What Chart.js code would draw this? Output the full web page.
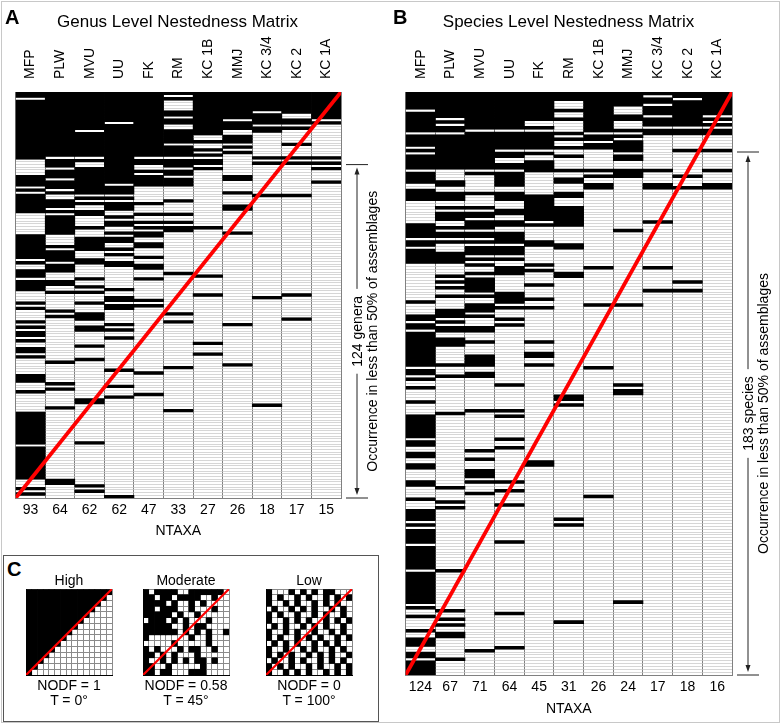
<!DOCTYPE html>
<html>
<head>
<meta charset="utf-8">
<script src="https://cdn.jsdelivr.net/npm/chart.js@4.4.1/dist/chart.umd.min.js"></script>
<style>
  body { margin: 0; background: #fff; font-family: 'Liberation Sans', Arial, sans-serif; }
  #page { position: relative; width: 782px; height: 726px; overflow: hidden; }
  canvas { position: absolute; }
  .txt { position: absolute; white-space: nowrap; line-height: 1; color: #000; z-index: 2; }
  .letter { font-size: 20px; font-weight: bold; }
  .title { font-size: 17px; text-align: center; width: 327px; top: 13px; }
  .small { font-size: 14px; text-align: center; width: 110px; }
  #frame { position: absolute; left: 1px; top: 1px; width: 777px; height: 720px; border: 1px solid #c8c8c8; }
  #boxC { position: absolute; left: 3px; top: 555px; width: 374px; height: 165px; border: 1px solid #555; }
</style>
</head>
<body>
<div id="page">
  <div id="frame"></div>
  <div id="boxC"></div>
  <canvas id="chartA" width="390" height="550" style="left:0;top:0"></canvas>
  <canvas id="chartB" width="392" height="726" style="left:390px;top:0"></canvas>
  <canvas id="cHigh" width="94" height="94" style="left:22px;top:585px"></canvas>
  <canvas id="cModerate" width="94" height="94" style="left:139px;top:585px"></canvas>
  <canvas id="cLow" width="94" height="94" style="left:262px;top:585px"></canvas>

  <div class="txt letter" style="left:5px;top:7px">A</div>
  <div class="txt letter" style="left:393px;top:7px">B</div>
  <div class="txt letter" style="left:7px;top:559px">C</div>
  <div class="txt title" style="left:14px">Genus Level Nestedness Matrix</div>
  <div class="txt title" style="left:405px">Species Level Nestedness Matrix</div>
  <div id="labelsC"></div>
</div>
<script>
Chart.defaults.font.family = "'Liberation Sans', Arial, sans-serif";
Chart.defaults.color = '#000';

// assemblages (columns), same order in both matrices
const columns = ['MFP', 'PLW', 'MVU', 'UU', 'FK', 'RM', 'KC 1B', 'MMJ', 'KC 3/4', 'KC 2', 'KC 1A'];

// genus matrix: presence runs [firstRow, endRow) per column
const genusRows = 151;
const genusCommon = 27;
const genusNtaxa = [93, 64, 62, 62, 47, 33, 27, 26, 18, 17, 15];
const genusRuns = [
  [[0,2],[3,25],[31,35],[36,37],[38,45],[53,62],[63,64],[66,69],[70,74],[78,79],[80,81],[85,86],[87,88],[89,91],[92,93],[95,97],[98,99],[105,108],[111,112],[119,131],[132,144],[147,148],[149,150]],
  [[0,24],[25,28],[29,32],[33,36],[37,38],[40,43],[44,45],[46,53],[57,58],[59,63],[64,67],[70,72],[74,75],[81,82],[83,84],[100,101],[108,109],[110,111],[117,118],[144,146]],
  [[0,14],[15,24],[25,26],[28,38],[39,40],[41,42],[44,46],[50,51],[54,59],[62,64],[69,70],[72,73],[74,75],[78,79],[82,85],[87,89],[94,95],[99,100],[114,116],[130,131],[146,147],[148,149]],
  [[0,11],[12,34],[35,38],[39,40],[41,44],[46,47],[48,50],[52,53],[54,56],[58,59],[60,61],[63,65],[73,74],[76,78],[79,81],[86,87],[88,89],[91,92],[103,104],[109,110],[113,114],[150,151]],
  [[0,24],[25,27],[29,30],[31,35],[41,42],[45,46],[48,49],[50,51],[52,54],[56,58],[61,62],[64,66],[69,70],[77,78],[79,80],[104,105],[112,113]],
  [[0,1],[2,3],[7,9],[10,12],[14,19],[20,24],[25,28],[29,31],[32,35],[40,41],[45,46],[48,49],[50,52],[67,68],[82,83],[85,86],[102,103],[118,119]],
  [[0,16],[18,19],[21,22],[23,24],[25,27],[28,29],[50,51],[68,69],[75,76],[93,94],[97,98]],
  [[0,10],[11,14],[16,19],[20,21],[22,23],[31,33],[37,38],[42,44],[52,53],[86,87],[101,102]],
  [[0,7],[8,12],[13,15],[24,25],[26,27],[38,39],[76,77],[116,117]],
  [[0,8],[10,12],[13,14],[19,20],[24,25],[26,27],[38,39],[75,76],[84,85]],
  [[0,10],[11,12],[24,25],[26,27],[28,29],[33,34]]
];

// species matrix
const speciesRows = 204;
const speciesCommon = 21;
const speciesNtaxa = [124, 67, 71, 64, 45, 31, 26, 24, 17, 18, 16];
const speciesRuns = [
  [[0,6],[7,14],[15,19],[20,21],[22,27],[28,32],[34,38],[46,51],[52,54],[55,60],[73,74],[78,80],[81,83],[84,96],[97,99],[100,101],[103,104],[108,109],[113,121],[122,124],[126,128],[130,132],[136,138],[142,143],[146,150],[151,152],[153,158],[159,167],[168,179],[180,181],[183,184],[188,189],[191,194],[196,198],[199,204]],
  [[0,9],[10,11],[12,14],[15,27],[31,33],[35,38],[40,41],[42,45],[47,48],[49,51],[52,53],[56,60],[64,65],[66,67],[68,69],[71,72],[76,79],[80,81],[82,84],[86,89],[95,96],[99,100],[112,113],[138,139],[143,144],[145,146],[167,168],[181,182],[184,185],[186,187],[189,191],[198,199]],
  [[0,13],[14,27],[28,29],[35,36],[40,41],[42,44],[45,48],[49,51],[52,53],[54,57],[58,59],[60,61],[63,64],[65,70],[71,72],[74,77],[78,79],[82,84],[87,88],[92,96],[98,100],[111,112],[125,126],[128,129],[132,135],[136,137],[140,141],[195,196]],
  [[0,13],[14,20],[21,23],[25,27],[28,33],[35,38],[41,43],[45,47],[49,53],[54,57],[58,59],[61,64],[70,74],[75,76],[79,80],[81,82],[102,103],[111,112],[113,114],[121,122],[124,125],[136,137],[139,140],[144,145],[157,158],[182,183],[194,195]],
  [[0,10],[12,13],[14,20],[21,22],[24,28],[36,45],[46,47],[52,54],[60,61],[62,63],[67,68],[72,73],[75,76],[87,88],[91,93],[95,96],[129,131]],
  [[0,3],[6,7],[9,10],[14,15],[16,17],[19,20],[22,23],[27,28],[30,32],[35,37],[40,47],[53,55],[63,65],[106,108],[109,110],[149,150],[151,152],[185,186]],
  [[0,14],[15,17],[18,20],[27,28],[29,30],[32,34],[61,62],[74,75],[96,97],[141,142]],
  [[0,5],[8,10],[13,14],[15,16],[17,21],[22,24],[27,30],[48,49],[74,75],[102,103],[104,106],[178,179]],
  [[0,1],[2,4],[5,8],[9,12],[13,15],[27,28],[32,34],[45,46],[61,62],[69,70]],
  [[0,2],[3,12],[13,15],[20,21],[29,30],[33,34],[66,67],[69,70]],
  [[0,8],[9,10],[11,12],[13,15],[20,21],[27,28],[32,34]]
];

// panel C example matrices ('#' = present)
const nestLevels = ['High', 'Moderate', 'Low'];
const nodfValues = ['1', '0.58', '0'];
const temperatures = ['0', '45', '100'];
const highGrid = [
  '###############', '##############.', '#############..', '############...', '###########....',
  '##########.....', '#########......', '########.......', '#######........', '######.........',
  '#####..........', '####...........', '###............', '##.............', '#..............'
];
const moderateGrid = [
  '#.####..######.', '##.##.####..#..', '####.#..#.#....', '##.###..#...#..', '#####.#..#.....',
  '.###.#.#...#...', '#####..#.##....', '######.#.#.#..#', '#.......#..#...', '.....#.....#...',
  '#.#...#.##..#..', '##.#.#...#.....', '#..#.#.#.##.#..', '##..#.....#....', '##.##...###....'
];
const lowGrid = [
  '#...#.#.#.##...', '#.#..#.#..#.#.#', '#..#.#..#.#.#..', '.#..#.#.#..#.#.', '#.#..#..#.#..#.',
  '#..#.#.#..#.#.#', '.#.#..#.#.#..#.', '#..#.#..#..#.#.', '#.#..#.#.#..#.#', '.#.#.#..#.#.#..',
  '#..#..#.#..#.#.', '#.#.#..#.#.#..#', '.#..#.#..#.#.#.', '#.#.#..#.#..#.#', '#..#.#.#..#.#.#'
];

function runDatasets(runs) {
  const n = Math.max(...runs.map(r => r.length));
  const sets = [];
  for (let k = 0; k < n; k++) {
    sets.push({
      type: 'bar',
      data: runs.map(r => r[k] || null),
      backgroundColor: '#000',
      borderWidth: 0,
      grouped: false,
      categoryPercentage: 1,
      barPercentage: 1,
      order: 1
    });
  }
  return sets;
}

function gridToRuns(grid) {
  const runs = [];
  for (let c = 0; c < grid[0].length; c++) {
    const col = [];
    let start = -1;
    for (let r = 0; r <= grid.length; r++) {
      const on = r < grid.length && grid[r][c] === '#';
      if (on && start < 0) start = r;
      if (!on && start >= 0) { col.push([start, r]); start = -1; }
    }
    runs.push(col);
  }
  return runs;
}

function diagonal(nCols, nRows, width) {
  return {
    type: 'line',
    xAxisID: 'xd',
    yAxisID: 'y',
    data: [{x: 0, y: nRows}, {x: nCols, y: 0}],
    borderColor: '#ff0000',
    borderWidth: width,
    pointRadius: 0,
    order: 0
  };
}

// vertical arrow bracket with rotated caption to the right of a matrix
const bracketPlugin = {
  id: 'bracket',
  afterDraw(chart, args, opts) {
    if (!opts.lines) return;
    const {ctx, chartArea, scales: {y}} = chart;
    const x = chartArea.right + opts.dx;
    const top = y.getPixelForValue(opts.from);
    const bottom = y.getPixelForValue(y.max);
    const mid = (top + bottom) / 2;
    ctx.save();
    ctx.font = "14px 'Liberation Sans', Arial, sans-serif";
    const gap = ctx.measureText(opts.lines[0]).width / 2 + 7;
    ctx.strokeStyle = '#222';
    ctx.fillStyle = '#222';
    ctx.lineWidth = 1;
    ctx.beginPath();
    ctx.moveTo(x - 11, top); ctx.lineTo(x + 11, top);
    ctx.moveTo(x - 11, bottom); ctx.lineTo(x + 11, bottom);
    ctx.moveTo(x, top + 6); ctx.lineTo(x, mid - gap);
    ctx.moveTo(x, mid + gap); ctx.lineTo(x, bottom - 6);
    ctx.stroke();
    ctx.beginPath();
    ctx.moveTo(x, top + 3); ctx.lineTo(x - 2.5, top + 10); ctx.lineTo(x + 2.5, top + 10); ctx.closePath();
    ctx.moveTo(x, bottom - 3); ctx.lineTo(x - 2.5, bottom - 10); ctx.lineTo(x + 2.5, bottom - 10); ctx.closePath();
    ctx.fill();
    ctx.fillStyle = '#000';
    ctx.textAlign = 'center';
    ctx.textBaseline = 'middle';
    opts.lines.forEach((t, i) => {
      ctx.save();
      ctx.translate(x + 1 + i * opts.lineGap, mid);
      ctx.rotate(-Math.PI / 2);
      ctx.fillText(t, 0, 0);
      ctx.restore();
    });
    ctx.restore();
  }
};

function makeMatrix(id, runs, ntaxa, nRows, nCommon, caption, pad, bottomH, titlePad) {
  new Chart(document.getElementById(id), {
    type: 'bar',
    data: {
      labels: columns,
      datasets: [...runDatasets(runs), diagonal(columns.length, nRows, 3.8)]
    },
    options: {
      responsive: false,
      animation: false,
      events: [],
      layout: { padding: pad },
      plugins: {
        legend: { display: false },
        tooltip: { enabled: false },
        bracket: { lines: caption, from: nCommon, dx: 16, lineGap: 15.5 }
      },
      scales: {
        x: {
          type: 'category', axis: 'x', position: 'top', offset: true,
          grid: { offset: true, color: '#808080', lineWidth: 1, drawTicks: false },
          border: { display: true, color: '#808080' },
          ticks: { minRotation: 90, maxRotation: 90, autoSkip: false, padding: 13, labelOffset: 17, font: { size: 14 } },
          afterFit: s => { s.height = 56; }
        },
        xb: {
          type: 'category', axis: 'x', position: 'bottom', offset: true,
          labels: ntaxa.map(String),
          grid: { display: false, drawTicks: false },
          border: { display: true, color: '#808080' },
          ticks: { padding: 4, font: { size: 14 } },
          title: { display: true, text: 'NTAXA', font: { size: 14 }, padding: { top: 0, bottom: titlePad } },
          afterFit: s => { s.height = bottomH; }
        },
        xd: { type: 'linear', axis: 'x', min: 0, max: columns.length, offset: false, display: false },
        y: {
          type: 'linear', axis: 'y', position: 'left', reverse: true, min: 0, max: nRows,
          ticks: { display: false, stepSize: 1, autoSkip: false },
          grid: { color: '#c4c4c4', lineWidth: 0.7, drawTicks: false },
          border: { display: false },
          afterFit: s => { s.width = 0; }
        }
      }
    },
    plugins: [bracketPlugin]
  });
}

function makeSmall(id, grid) {
  const n = grid.length;
  new Chart(document.getElementById(id), {
    type: 'bar',
    data: {
      labels: grid[0].split('').map((_, i) => String(i)),
      datasets: [...runDatasets(gridToRuns(grid)), diagonal(n, n, 2.2)]
    },
    options: {
      responsive: false,
      animation: false,
      events: [],
      layout: { padding: 4 },
      plugins: { legend: { display: false }, tooltip: { enabled: false } },
      scales: {
        x: {
          type: 'category', axis: 'x', position: 'bottom', offset: true,
          grid: { offset: true, color: '#8a8a8a', lineWidth: 1, drawTicks: false },
          border: { display: true, color: '#000' },
          ticks: { display: false },
          afterFit: s => { s.height = 0; }
        },
        xd: { type: 'linear', axis: 'x', min: 0, max: n, offset: false, display: false },
        y: {
          type: 'linear', axis: 'y', position: 'left', reverse: true, min: 0, max: n,
          ticks: { display: false, stepSize: 1 },
          grid: { color: '#8a8a8a', lineWidth: 1, drawTicks: false },
          border: { display: true, color: '#000' },
          afterFit: s => { s.width = 0; }
        }
      }
    }
  });
}

makeMatrix('chartA', genusRuns, genusNtaxa, genusRows, genusCommon,
  [(genusRows - genusCommon) + ' genera', 'Occurrence in less than 50% of assemblages'],
  { top: 36, left: 14, right: 49, bottom: 0 }, 52, 10);
makeMatrix('chartB', speciesRuns, speciesNtaxa, speciesRows, speciesCommon,
  [(speciesRows - speciesCommon) + ' species', 'Occurrence in less than 50% of assemblages'],
  { top: 36, left: 15, right: 50, bottom: 0 }, 51, 8);

const smallIds = ['cHigh', 'cModerate', 'cLow'];
[highGrid, moderateGrid, lowGrid].forEach((g, i) => makeSmall(smallIds[i], g));

// panel C captions
const centersC = [69, 186, 309];
const holder = document.getElementById('labelsC');
nestLevels.forEach((name, i) => {
  const rows = [[name, 573], ['NODF = ' + nodfValues[i], 678], ['T = ' + temperatures[i] + '\u00B0', 693]];
  rows.forEach(([t, top]) => {
    const d = document.createElement('div');
    d.className = 'txt small';
    d.style.left = (centersC[i] - 55) + 'px';
    d.style.top = top + 'px';
    d.textContent = t;
    holder.appendChild(d);
  });
});
</script>
</body>
</html>
